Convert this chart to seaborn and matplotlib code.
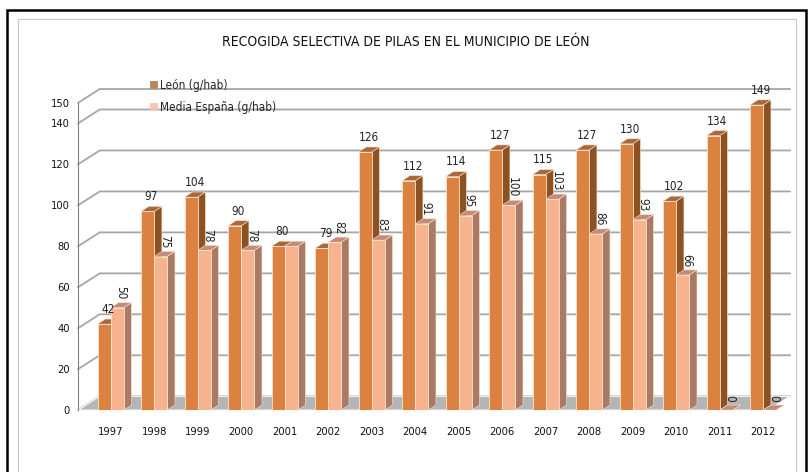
import numpy as np
import pandas as pd
import matplotlib
matplotlib.use("Agg")
import matplotlib.pyplot as plt
from matplotlib.patches import Polygon, Rectangle
import seaborn as sns

anios = ["1997", "1998", "1999", "2000", "2001", "2002", "2003", "2004",
         "2005", "2006", "2007", "2008", "2009", "2010", "2011", "2012"]
leon = [42, 97, 104, 90, 80, 79, 126, 112, 114, 127, 115, 127, 130, 102, 134, 149]
media_espana = [50, 75, 78, 78, 80, 82, 83, 91, 95, 100, 103, 86, 93, 66, 0, 0]
series = ["León (g/hab)", "Media España (g/hab)"]
y_ticks = [0, 20, 40, 60, 80, 100, 120, 140, 150]
titulo = "RECOGIDA SELECTIVA DE PILAS EN EL MUNICIPIO DE LEÓN"

col_front = ["#DB8240", "#F6B38E"]
col_side = ["#8C5224", "#A97A66"]
col_top = ["#A8683C", "#C48C78"]

df = pd.DataFrame({
    "anio": anios * 2,
    "serie": [series[0]] * len(anios) + [series[1]] * len(anios),
    "valor": leon + media_espana,
})

sns.set_style("white")
plt.rcParams["font.family"] = ["DejaVu Sans"]
plt.rcParams["font.stretch"] = "condensed"

fig = plt.figure(figsize=(8.12, 4.72), dpi=100)
ax = fig.add_axes([0.096, 0.131, 0.877, 0.716])

sns.barplot(data=df, x="anio", y="valor", hue="serie", hue_order=series,
            palette=col_front, width=0.6, saturation=1, ax=ax,
            edgecolor="#FBE3CC", linewidth=0.6, zorder=3, legend=True)

ax.set_xlim(-0.75, 15.62)
ax.set_ylim(0, 165)

# profundidad del efecto 3D (unidades de datos)
dx, dy = 0.18, 2.5
wx, wy = 0.5, 6.8
x0, x1 = ax.get_xlim()

# pared del fondo: lineas de rejilla en perspectiva
for v in y_ticks:
    ax.plot([x0, x0 + wx, x1], [v, v + wy, v + wy], color="#A6A6A6",
            lw=1.3, zorder=0.5, clip_on=False)

# suelo
ax.add_patch(Polygon([(x0, 0), (x1 - wx, 0), (x1, wy), (x0 + wx, wy)],
                     closed=True, facecolor="#B5B5B5", edgecolor="white",
                     lw=0.8, zorder=1, clip_on=False))

for k, cont in enumerate(ax.containers):
    for p in cont.patches:
        xl, w, h = p.get_x(), p.get_width(), p.get_height()
        xr = xl + w
        ax.add_patch(Polygon([(xr, 0), (xr + dx, dy), (xr + dx, h + dy), (xr, h)],
                             closed=True, facecolor=col_side[k], edgecolor="#FBE3CC",
                             lw=0.4, zorder=2))
        ax.add_patch(Polygon([(xl, h), (xl + dx, h + dy), (xr + dx, h + dy), (xr, h)],
                             closed=True, facecolor=col_top[k], edgecolor="#FBE3CC",
                             lw=0.4, zorder=2))

# etiquetas de datos
for p, v in zip(ax.containers[0].patches, leon):
    cx = p.get_x() + p.get_width() / 2 + dx / 2
    ax.text(cx, v + dy + 1.5, str(v), ha="center", va="bottom", fontsize=8.5,
            color="#222222", zorder=5)
for p, v, l in zip(ax.containers[1].patches, media_espana, leon):
    if v == l:
        continue
    cx = p.get_x() + p.get_width() / 2 + dx / 2
    ax.text(cx, v + dy + 1.5, str(v), ha="center", va="bottom", fontsize=8.5,
            rotation=-90, color="#222222", zorder=5)

# ejes
sns.despine(ax=ax, left=False, bottom=True, top=True, right=True)
ax.spines["left"].set_bounds(0, 150)
ax.spines["left"].set_color("#808080")
ax.set_yticks(y_ticks)
ax.tick_params(axis="y", length=4, width=0.8, color="#808080", labelsize=8,
               pad=2, labelcolor="#111111")
ax.tick_params(axis="x", length=0, labelsize=8, pad=12, labelcolor="#111111")
ax.set_xticks(np.arange(len(anios)) - 0.5, minor=True)
ax.tick_params(axis="x", which="minor", length=4, color="#A0A0A0", pad=0)
ax.set_xlabel("")
ax.set_ylabel("")
ax.grid(False)

leg = ax.legend(loc="upper left", bbox_to_anchor=(0.095, 0.995), frameon=False,
                fontsize=8.5, handlelength=0.55, handleheight=0.55,
                handletextpad=0.3, labelspacing=0.8, borderaxespad=0)
for hnd, c in zip(leg.legend_handles, ["#B9875A", "#F3C6B0"]):
    hnd.set_facecolor(c)
    hnd.set_edgecolor(c)

fig.text(0.5, 1 - 42 / 472, titulo, ha="center", va="center", fontsize=10,
         color="#111111")

fig.patches.append(Rectangle((7 / 812, -0.02), 799 / 812, 1 - 10 / 472 + 0.02,
                             transform=fig.transFigure, fill=False,
                             edgecolor="black", lw=1.8))
fig.patches.append(Rectangle((18 / 812, -0.02), 778 / 812, 1 - 19 / 472 + 0.02,
                             transform=fig.transFigure, fill=False,
                             edgecolor="#C8C8C8", lw=0.8))

fig.savefig("out.png", dpi=100)
